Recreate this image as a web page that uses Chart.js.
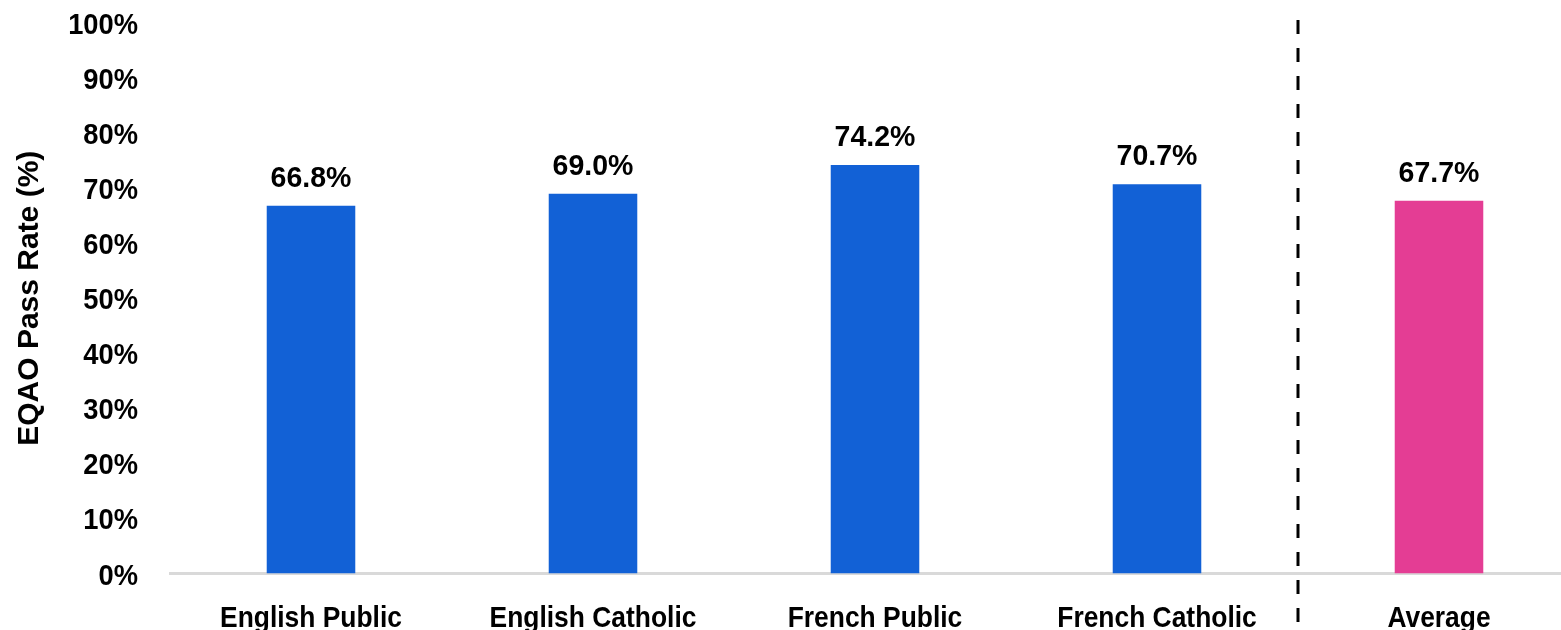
<!DOCTYPE html>
<html>
<head>
<meta charset="utf-8">
<script src="https://cdn.jsdelivr.net/npm/chart.js@4"></script>
<style>
  html, body { margin: 0; padding: 0; background: #ffffff; overflow: hidden; }
  #wrap { position: relative; width: 1580px; height: 630px; }
</style>
</head>
<body>
<div id="wrap"><canvas id="c"></canvas></div>
<script>
const categories = ["English Public", "English Catholic", "French Public", "French Catholic", "Average"];
const passRates = [66.8, 69.0, 74.2, 70.7, 67.7];
const valueLabels = ["66.8%", "69.0%", "74.2%", "70.7%", "67.7%"];
const yTickValues = [0, 10, 20, 30, 40, 50, 60, 70, 80, 90, 100];
const yTickLabels = ["0%", "10%", "20%", "30%", "40%", "50%", "60%", "70%", "80%", "90%", "100%"];
const axisTitle = "EQAO Pass Rate (%)";
const separatorAfterIndex = 3;

const FONT = '"Liberation Sans", Arial, sans-serif';
const BLUE = '#1261D6';
const PINK = '#E43D94';

function drawScaledText(ctx, text, x, y, align, sx) {
  ctx.save();
  ctx.translate(x, y);
  ctx.scale(sx, 1);
  ctx.textAlign = align;
  ctx.textBaseline = 'alphabetic';
  ctx.fillText(text, 0, 0);
  ctx.restore();
}

const textPlugin = {
  id: 'texts',
  afterDraw(chart) {
    const ctx = chart.ctx;
    const xs = chart.scales.x, ys = chart.scales.y;
    const area = chart.chartArea;
    ctx.save();
    ctx.font = 'bold 30px ' + FONT;
    ctx.fillStyle = '#000000';
    // y tick labels
    yTickValues.forEach((v, i) => {
      drawScaledText(ctx, yTickLabels[i], area.left - 32, ys.getPixelForValue(v) + 11, 'right', 0.91);
    });
    // x category labels
    categories.forEach((c, i) => {
      drawScaledText(ctx, c, xs.getPixelForValue(i), area.bottom + 53.5, 'center', 0.88);
    });
    // value labels
    const meta = chart.getDatasetMeta(0);
    meta.data.forEach((bar, i) => {
      drawScaledText(ctx, valueLabels[i], bar.x, bar.y - 19, 'center', 0.95);
    });
    // axis title
    ctx.translate(27 + 11, (area.top + area.bottom) / 2);
    ctx.rotate(-Math.PI / 2);
    drawScaledText(ctx, axisTitle, 0, 0, 'center', 1.0);
    ctx.restore();
  }
};

const separatorPlugin = {
  id: 'separator',
  afterDraw(chart) {
    const xs = chart.scales.x;
    const x = (xs.getPixelForValue(separatorAfterIndex) + xs.getPixelForValue(separatorAfterIndex + 1)) / 2;
    const ctx = chart.ctx;
    ctx.save();
    ctx.strokeStyle = '#000000';
    ctx.lineWidth = 3;
    ctx.setLineDash([14, 14]);
    ctx.beginPath();
    ctx.moveTo(x, chart.chartArea.top - 3);
    ctx.lineTo(x, chart.height);
    ctx.stroke();
    ctx.restore();
  }
};

new Chart(document.getElementById('c'), {
  type: 'bar',
  data: {
    labels: categories,
    datasets: [{
      data: passRates,
      backgroundColor: passRates.map((v, i) => i === categories.length - 1 ? PINK : BLUE),
      borderWidth: 0,
      categoryPercentage: 1.0,
      barPercentage: 0.314
    }]
  },
  options: {
    responsive: true,
    maintainAspectRatio: false,
    animation: false,
    devicePixelRatio: 1,
    layout: { padding: { top: 23, left: 0, right: 0, bottom: 0 } },
    plugins: { legend: { display: false }, tooltip: { enabled: false }, title: { display: false } },
    scales: {
      x: {
        grid: { display: false, drawTicks: false },
        border: { display: true, color: '#D9D9D9', width: 3 },
        ticks: { display: false },
        afterFit(scale) { scale.height = 56.5; }
      },
      y: {
        min: 0, max: 100,
        grid: { display: false, drawTicks: false },
        border: { display: false },
        afterBuildTicks(scale) { scale.ticks = yTickValues.map(v => ({ value: v })); },
        ticks: { display: false },
        afterFit(scale) { scale.width = 170; }
      }
    }
  },
  plugins: [separatorPlugin, textPlugin]
});
</script>
</body>
</html>
